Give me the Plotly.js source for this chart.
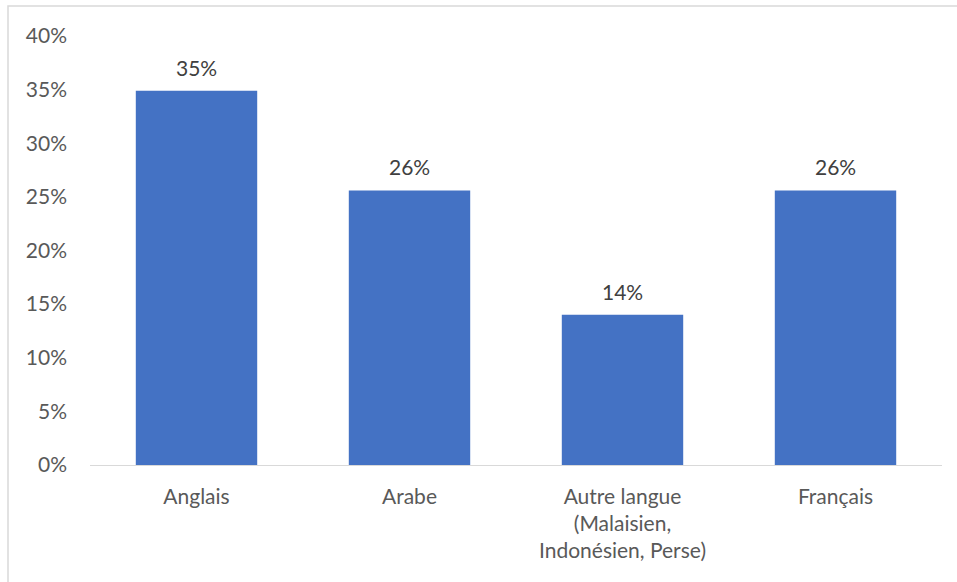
<!DOCTYPE html>
<html>
<head>
<meta charset="utf-8">
<script src="https://cdn.plot.ly/plotly-3.0.1.min.js"></script>
<style>html,body{margin:0;padding:0;background:#fff;}</style>
</head>
<body>
<div id="chart" style="width:957px;height:582px;"></div>
<script>
const categories = ["Anglais", "Arabe", "Autre langue<br>(Malaisien,<br>Indonésien, Perse)", "Français"];
const values = [0.349, 0.256, 0.140, 0.256];
const dataLabels = ["35%", "26%", "14%", "26%"];
const yTicks = [0, 0.05, 0.10, 0.15, 0.20, 0.25, 0.30, 0.35, 0.40];
const yTickLabels = ["0%", "5%", "10%", "15%", "20%", "25%", "30%", "35%", "40%"];

const font = "Lato, 'Open Sans', sans-serif";
const trace = {
  type: "bar",
  x: categories,
  y: values,
  marker: {color: "#4472C4"},
  width: 0.57,
  hoverinfo: "none"
};
const annotations = categories.map((c, i) => ({
  x: c, y: values[i], xref: "x", yref: "y",
  text: dataLabels[i], showarrow: false,
  yanchor: "bottom", yshift: 9,
  font: {family: font, size: 21, color: "#404040"}
}));
const layout = {
  width: 957, height: 582,
  margin: {l: 90, r: 15, t: 36, b: 117},
  paper_bgcolor: "#fff", plot_bgcolor: "#fff",
  showlegend: false,
  xaxis: {
    showgrid: false, zeroline: false,
    showline: true, linecolor: "#d9d9d9", linewidth: 1.3,
    ticks: "", ticklabelstandoff: 12,
    tickfont: {family: font, size: 21, color: "#595959"}
  },
  yaxis: {
    range: [0, 0.4], showgrid: false, zeroline: false, showline: false,
    tickmode: "array", tickvals: yTicks, ticktext: yTickLabels,
    ticks: "", ticklabelstandoff: 22,
    tickfont: {family: font, size: 21, color: "#595959"}
  },
  annotations: annotations,
  shapes: [{
    type: "rect", xref: "paper", yref: "paper",
    x0: -82/852, x1: 1.1, y0: -0.5, y1: (465-6)/429,
    line: {color: "#d9d9d9", width: 1.5}, fillcolor: "rgba(0,0,0,0)", layer: "below"
  }]
};
Plotly.newPlot("chart", [trace], layout, {displayModeBar: false, staticPlot: true});
</script>
</body>
</html>
